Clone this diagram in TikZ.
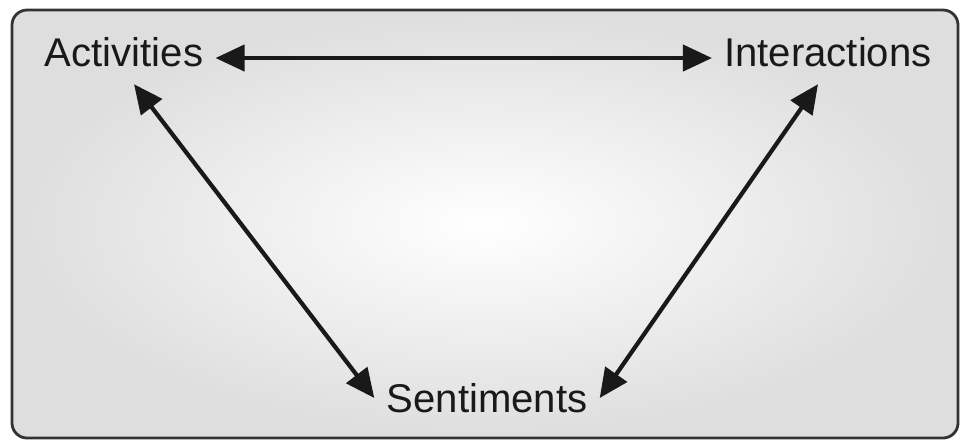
\documentclass[tikz,border=0pt]{standalone}
\usepackage{fontspec}
\setmainfont{Liberation Sans}
\usetikzlibrary{arrows.meta, positioning}

\begin{document}
\begin{tikzpicture}[
    x=0.01cm, y=-0.01cm,
    label/.style={font=\fontsize{11.4}{13}\selectfont, text=black!90, inner sep=0.3333em},
    arrow/.style={{Triangle[length=0.29cm, width=0.26cm]}-{Triangle[length=0.29cm, width=0.26cm]}, line width=1.2pt, black!90},
]
    \useasboundingbox (0,0) rectangle (961,441);
    % background panel
    \draw[rounded corners=0.15cm, shading=radial, inner color=white, outer color=gray!26, draw=black!80, line width=0.8pt]
        (12,10) rectangle (958,438);

    \node[label] (act) at (124,52) {Activities};
    \node[label] (inter) at (828,52) {Interactions};
    \node[label] (sent) at (487,398) {Sentiments};

    \draw[arrow] ([yshift=-0.06cm]act.east) -- ([yshift=-0.06cm]inter.west);
    \draw[arrow] ([xshift=0.1cm, yshift=-0.05cm]act.south) -- (sent.west);
    \draw[arrow] ([xshift=-0.1cm, yshift=-0.05cm]inter.south) -- (sent.east);
\end{tikzpicture}
\end{document}
